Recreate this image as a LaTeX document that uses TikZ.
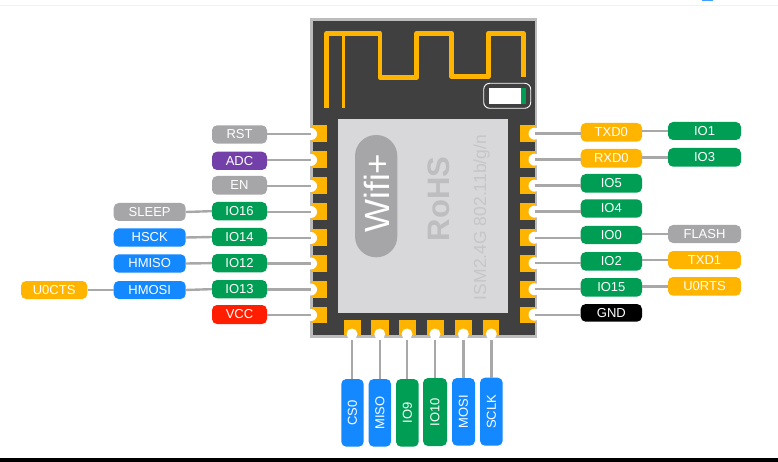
\documentclass[tikz,border=0pt]{standalone}
\usepackage{fontspec}
\setmainfont{Liberation Sans}
\definecolor{pgray}{HTML}{A6A6A8}
\definecolor{pblue}{HTML}{1488FF}
\definecolor{pgreen}{HTML}{009E54}
\definecolor{pgold}{HTML}{FFB400}
\definecolor{ppurple}{HTML}{7240A8}
\definecolor{pred}{HTML}{FF1E00}
\definecolor{pblack}{HTML}{000000}
\definecolor{board}{HTML}{404040}
\definecolor{bedge}{HTML}{BCBCBC}
\definecolor{shield}{HTML}{D8D8DA}
\definecolor{shieldtext}{HTML}{BEBEC0}
\definecolor{shieldthin}{HTML}{C6C6C8}
\definecolor{wire}{HTML}{A8A8A8}
\tikzset{
  x=1pt,y=-1pt,
  pinbox/.style={rounded corners=5pt,inner sep=0pt,text=white,
    font=\fontsize{13}{13}\selectfont},
  wirel/.style={draw=wire,line width=2.4pt},
  padgold/.style={fill=pgold,draw=none},
  notch/.style={circle,fill=white,draw=none,minimum size=12pt,inner sep=0pt},
  antenna/.style={draw=pgold,line width=4.6pt,line join=round}
}
% name, x1, y1, x2, y2, colour, text
\newcommand{\pinH}[7]{%
  \pgfmathsetmacro{\pcx}{(#2+#4)/2}\pgfmathsetmacro{\pcy}{(#3+#5)/2}%
  \pgfmathsetmacro{\pw}{#4-#2}\pgfmathsetmacro{\ph}{#5-#3}%
  \node[pinbox,fill=#6,minimum width=\pw pt,minimum height=\ph pt] (#1) at (\pcx,\pcy) {#7};}
\newcommand{\pinV}[7]{%
  \pgfmathsetmacro{\pcx}{(#2+#4)/2}\pgfmathsetmacro{\pcy}{(#3+#5)/2}%
  \pgfmathsetmacro{\pw}{#4-#2}\pgfmathsetmacro{\ph}{#5-#3}%
  \node[pinbox,fill=#6,rotate=90,minimum width=\ph pt,minimum height=\pw pt] (#1) at (\pcx,\pcy) {#7};}
\begin{document}
\begin{tikzpicture}
\useasboundingbox (0,0) rectangle (778,462);
\fill[white] (0,0) rectangle (778,462);
% page furniture
\fill[black] (0,457.5) rectangle (778,462);
\fill[black!5] (0,5.5) rectangle (778,6.5);
\fill[pblue!80] (702,0) rectangle (713,1);
% board
\fill[bedge] (309.5,18) rectangle (537,338);
\fill[board] (312.5,21) rectangle (534.5,335);
\fill[shield] (338.3,119) rectangle (508,312.7);
% antenna
\draw[antenna] (326.7,108) -- (326.7,33.3) -- (380,33.3) -- (380,77.3) -- (416.7,77.3) -- (416.7,33.3) -- (451.7,33.3) -- (451.7,76.7) -- (488.3,76.7) -- (488.3,33.3) -- (523.3,33.3) -- (523.3,77.3);
\draw[draw=pgold,line width=3pt] (343.7,33.3) -- (343.7,108);
% LED
\draw[white,line width=0.9pt,rounded corners=6pt] (483.7,83.3) rectangle (530.7,108.3);
\fill[white] (489,88) rectangle (520.7,104);
\fill[pgreen] (520.7,88) rectangle (526,104);
% shield marks
\fill[pgray,rounded corners=21pt] (355,135) rectangle (397.3,257.3);
\node[rotate=90,text=white,inner sep=0pt,font=\fontsize{35}{35}\selectfont] (wifi) at (377,193) {Wifi+};
\node[rotate=90,text=shieldtext,inner sep=0pt,font=\fontsize{31}{31}\selectfont\bfseries] (rohs) at (439,199) {RoHS};
\node[rotate=90,text=shieldthin,inner sep=0pt,font=\fontsize{17.5}{17.5}\selectfont] (ism) at (481.5,217.5) {ISM2.4G 802.11b/g/n};
% pads
\foreach \i/\yy in {1/125.5,2/151.5,3/177.5,4/203.5,5/229.5,6/255,7/281,8/306.5}{
  \fill[padgold] (311,\yy) rectangle (326.7,\yy+16.5);
  \fill[padgold] (520,\yy) rectangle (535.5,\yy+16.5);
  \node[notch] (padL\i) at (311,\yy+8.5) {};
  \node[notch] (padR\i) at (534.5,\yy+8.2) {};
}
\foreach \i/\xa/\xb/\xc in {1/344/361/352,2/371.3/389/379.7,3/399.3/416.3/407,4/427/444/435,5/454.7/472/463.3,6/483/499.3/491.3}{
  \fill[padgold] (\xa,320) rectangle (\xb,336);
  \node[notch,minimum size=11pt] (padB\i) at (\xc,334) {};
}
% left pins
\pinH{rst}{212}{125.3}{267}{143.7}{pgray}{RST}
\pinH{adc}{212}{151.7}{267}{170}{ppurple}{ADC}
\pinH{en}{212}{176}{267}{194.7}{pgray}{EN}
\pinH{iosixteen}{212}{202}{267}{220.3}{pgreen}{IO16}
\pinH{iofourteen}{212}{228}{267}{246}{pgreen}{IO14}
\pinH{iotwelve}{212}{254}{267}{272.3}{pgreen}{IO12}
\pinH{iothirteen}{212}{280}{267}{298.3}{pgreen}{IO13}
\pinH{vcc}{212}{305}{267}{324}{pred}{VCC}
\pinH{sleep}{113.7}{203}{185.7}{221}{pgray}{SLEEP}
\pinH{hsck}{113.7}{228.3}{185.7}{246.7}{pblue}{HSCK}
\pinH{hmiso}{113.7}{254.3}{185.7}{272.7}{pblue}{HMISO}
\pinH{hmosi}{113.7}{281}{185.7}{299}{pblue}{HMOSI}
\pinH{ucts}{21}{281}{87.3}{299}{pgold}{U0CTS}
% right pins
\pinH{txd}{580.7}{123}{642}{141.7}{pgold}{TXD0}
\pinH{rxd}{580.7}{149}{642}{167.7}{pgold}{RXD0}
\pinH{iofive}{580.7}{174}{642}{192.7}{pgreen}{IO5}
\pinH{iofour}{580.7}{199.3}{642}{217.7}{pgreen}{IO4}
\pinH{iozero}{580.7}{226}{642}{244}{pgreen}{IO0}
\pinH{iotwo}{580.7}{252}{642}{270.7}{pgreen}{IO2}
\pinH{iofifteen}{580.7}{278}{642}{296.7}{pgreen}{IO15}
\pinH{gnd}{580.7}{304}{642}{321.7}{pblack}{GND}
\pinH{ioone}{668}{122}{741}{140}{pgreen}{IO1}
\pinH{iothree}{668}{148}{741}{166.7}{pgreen}{IO3}
\pinH{flash}{668}{225}{741}{243}{pgray}{FLASH}
\pinH{txdone}{668}{251}{741}{269}{pgold}{TXD1}
\pinH{urts}{668}{277}{741}{295.7}{pgold}{U0RTS}
% bottom pins
\pinV{cs}{341.3}{379}{363.7}{446.7}{pblue}{CS0}
\pinV{miso}{368.7}{379}{391}{446.7}{pblue}{MISO}
\pinV{ionine}{396}{379}{418.7}{446.7}{pgreen}{IO9}
\pinV{ioten}{423}{378}{447}{446}{pgreen}{IO10}
\pinV{mosi}{452}{378}{475}{445.7}{pblue}{MOSI}
\pinV{sclk}{480}{377.7}{502.7}{445.7}{pblue}{SCLK}
% connectors to the pads
\foreach \n/\i in {rst/1,adc/2,en/3,iosixteen/4,iofourteen/5,iotwelve/6,iothirteen/7,vcc/8}
  \draw[wirel] (\n.east |- padL\i.center) -- (padL\i.center);
\foreach \n/\i in {txd/1,rxd/2,iofive/3,iofour/4,iozero/5,iotwo/6,iofifteen/7,gnd/8}
  \draw[wirel] (padR\i.center) -- (\n.west |- padR\i.center);
\foreach \n/\i in {cs/1,miso/2,ionine/3,ioten/4,mosi/5,sclk/6}
  \draw[wirel] (padB\i.south) -- (padB\i.south |- \n.east);
% connectors between pins
\draw[wirel] (sleep.east) -- (iosixteen.west);
\draw[wirel] (hsck.east) -- (iofourteen.west);
\draw[wirel] (hmiso.east) -- (iotwelve.west);
\draw[wirel] (hmosi.east) -- (iothirteen.west);
\draw[wirel] (ucts.east) -- (hmosi.west);
\draw[wirel] (txd.east |- ioone.west) -- (ioone.west);
\draw[wirel] (rxd.east |- iothree.west) -- (iothree.west);
\draw[wirel] (iozero.east |- flash.west) -- (flash.west);
\draw[wirel] (iotwo.east |- txdone.west) -- (txdone.west);
\draw[wirel] (iofifteen.east |- urts.west) -- (urts.west);
\end{tikzpicture}
\end{document}
